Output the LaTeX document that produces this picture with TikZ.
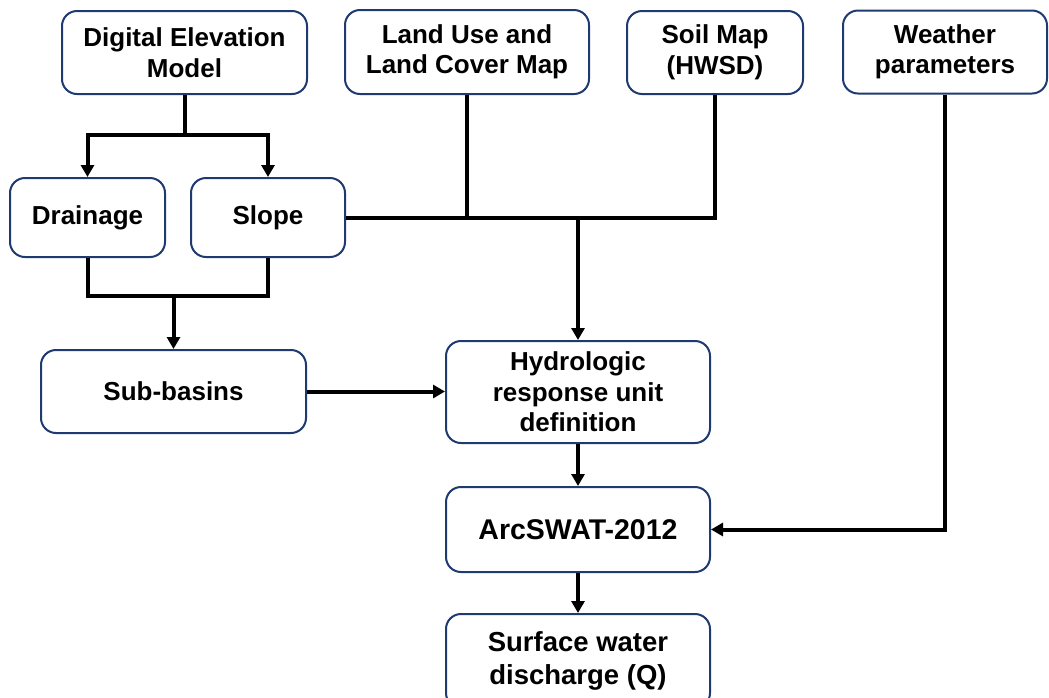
\documentclass[tikz,border=0pt]{standalone}
\usepackage{fontspec}
\setmainfont{Liberation Sans}
\usetikzlibrary{arrows.meta}
\definecolor{boxblue}{HTML}{1F3A70}
\begin{document}
\begin{tikzpicture}[x=1pt,y=-1pt,
  box/.style={draw=boxblue, line width=2pt, rounded corners=15pt, fill=white,
    align=center, inner sep=0pt, font=\fontsize{26}{30.5}\selectfont\bfseries},
  bigtext/.style={font=\fontsize{28.5}{33}\selectfont\bfseries},
  midtext/.style={font=\fontsize{27.5}{33}\selectfont\bfseries},
  conn/.style={line width=4pt, black},
  arr/.style={conn, -{Triangle[width=13pt,length=12pt]}}]
\clip (0,0) rectangle (1049,697);
\useasboundingbox (0,0) rectangle (1049,697);
\node[box, minimum width=245pt, minimum height=83pt] (dem) at (184.5,52.5) {Digital Elevation\\Model};
\node[box, minimum width=244pt, minimum height=84pt] (land) at (467,52) {Land Use and\\Land Cover Map};
\node[box, minimum width=176pt, minimum height=83pt] (soil) at (715,52.5) {Soil Map\\(HWSD)};
\node[box, minimum width=204pt, minimum height=83pt] (weather) at (945,52) {Weather\\parameters};
\node[box, minimum width=155pt, minimum height=79pt] (drain) at (87.5,217.5) {Drainage};
\node[box, minimum width=154pt, minimum height=79pt] (slope) at (268,217.5) {Slope};
\node[box, minimum width=265pt, minimum height=83pt] (sub) at (173.5,391.5) {Sub-basins};
\node[box, minimum width=264pt, minimum height=102pt] (hru) at (578,392) {Hydrologic\\response unit\\definition};
\node[box, bigtext, minimum width=264pt, minimum height=85pt] (arc) at (578,529.5) {ArcSWAT-2012};
\node[box, midtext, minimum width=264pt, minimum height=94pt] (surf) at (578,661) {Surface water\\discharge (Q)};
\coordinate (j1) at (184.5,135);
\coordinate (j2) at (173.5,296);
\draw[conn] (dem.south) -- (j1);
\draw[arr] (j1) -| (drain.north);
\draw[arr] (j1) -| (slope.north);
\draw[conn] (drain.south) |- (j2);
\draw[conn] (slope.south) |- (j2);
\draw[arr] (j2) -- (sub.north);
\draw[conn] (slope.east) -| (soil.south);
\draw[conn] (land.south) -- (land.south |- slope.east);
\draw[arr] (hru.north |- slope.east) -- (hru.north);
\draw[arr] (sub.east) -- (sub.east -| hru.west);
\draw[arr] (hru.south) -- (arc.north);
\draw[arr] (weather.south) |- (arc.east);
\draw[arr] (arc.south) -- (surf.north);
\end{tikzpicture}
\end{document}
